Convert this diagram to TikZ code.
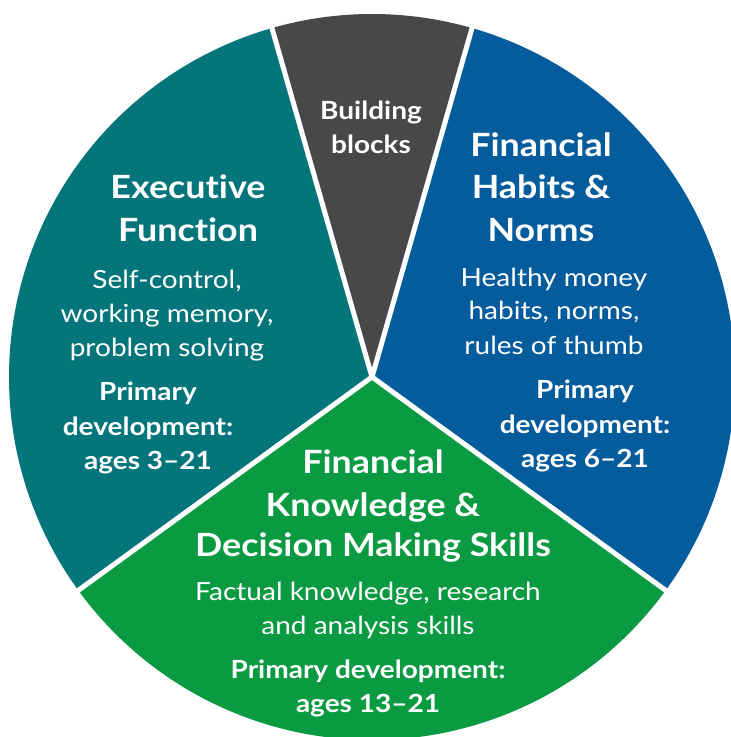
\documentclass[tikz,border=0pt]{standalone}
\usepackage{fontspec}
\setmainfont{Lato}[FakeStretch=1.12,Ligatures=NoCommon]
\definecolor{cteal}{RGB}{4,117,122}
\definecolor{cgray}{RGB}{72,71,74}
\definecolor{cblue}{RGB}{4,92,157}
\definecolor{cgreen}{RGB}{9,154,66}
\begin{document}
\begin{tikzpicture}[x=1pt,y=1pt,
  ln/.style={anchor=base,text=white,inner sep=0pt},
  ttl/.style={ln,font=\fontsize{32}{36}\selectfont\bfseries},
  bdy/.style={ln,font=\fontsize{25}{30}\selectfont},
  prm/.style={ln,font=\fontsize{25}{29}\selectfont\bfseries},
  gap/.style={draw=white,line width=5pt}]
\useasboundingbox (0,0) rectangle (731,737);
\coordinate (C) at (372,360);
\def\R{363}
% wedges
\fill[cblue]  (C) -- ++(-36:\R) arc[start angle=-36, end angle=74, radius=\R] -- cycle;
\fill[cgray]  (C) -- ++(74:\R) arc[start angle=74, end angle=106, radius=\R] -- cycle;
\fill[cteal]  (C) -- ++(106:\R) arc[start angle=106, end angle=216, radius=\R] -- cycle;
\fill[cgreen] (C) -- ++(216:\R) arc[start angle=216, end angle=324, radius=\R] -- cycle;
% separators
\path (C) ++(74:367) coordinate (s1);
\path (C) ++(106:367) coordinate (s2);
\path (C) ++(216:367) coordinate (s3);
\path (C) ++(324:367) coordinate (s4);
\draw[gap] (C) -- (s1);
\draw[gap] (C) -- (s2);
\draw[gap] (C) -- (s3);
\draw[gap] (C) -- (s4);
% gray
\node[prm] (g1) at (371,617) {Building};
\node[prm] (g2) at (371,583) {blocks};
% teal
\node[ttl] (t1) at (188,538) {Executive};
\node[ttl] (t2) at (188,495) {Function};
\node[bdy] (t3) at (167,448) {Self-control,};
\node[bdy] (t4) at (167,414) {working memory,};
\node[bdy] (t5) at (167,380) {problem solving};
\node[prm] (t6) at (148,336) {Primary};
\node[prm] (t7) at (148,301) {development:};
\node[prm] (t8) at (148,267) {ages 3–21};
% blue
\node[ttl] (b1) at (541,580) {Financial};
\node[ttl] (b2) at (541,538) {Habits \&};
\node[ttl] (b3) at (541,495) {Norms};
\node[bdy] (b4) at (554,450) {Healthy money};
\node[bdy] (b5) at (554,417) {habits, norms,};
\node[bdy] (b6) at (554,382) {rules of thumb};
\node[prm] (b7) at (585,338) {Primary};
\node[prm] (b8) at (585,303) {development:};
\node[prm] (b9) at (585,269) {ages 6–21};
% green
\node[ttl] (n1) at (373,263) {Financial};
\node[ttl] (n2) at (373,220) {Knowledge \&};
\node[ttl] (n3) at (373,180) {Decision Making Skills};
\node[bdy] (n4) at (368,136) {Factual knowledge, research};
\node[bdy] (n5) at (368,102) {and analysis skills};
\node[prm] (n6) at (368,58) {Primary development:};
\node[prm] (n7) at (368,24) {ages 13–21};
\end{tikzpicture}
\end{document}
